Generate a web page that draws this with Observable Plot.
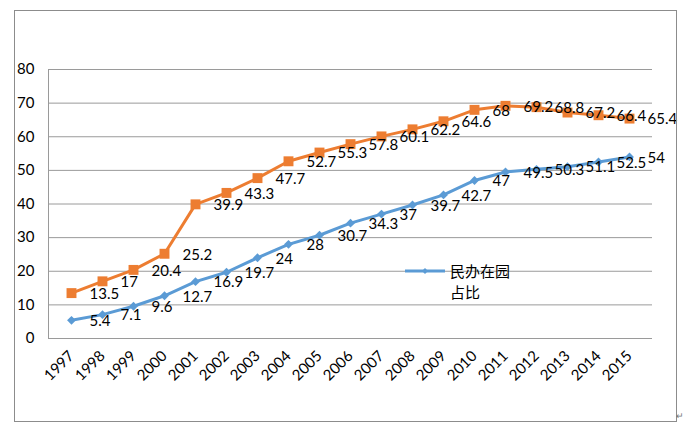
<!DOCTYPE html>
<html>
<head>
<meta charset="utf-8">
<script src="https://cdn.jsdelivr.net/npm/d3@7"></script>
<script src="https://cdn.jsdelivr.net/npm/@observablehq/plot@0.6"></script>
<style>
  html, body { margin: 0; padding: 0; background: #fff; }
  #wrap { position: relative; width: 685px; height: 429px; overflow: hidden; font-family: Lato, "Noto Sans CJK SC", sans-serif; }
  #border { position: absolute; left: 14px; top: 10px; width: 663px; height: 412px; box-sizing: border-box; border: 1.5px solid #8c8c8c; pointer-events: none; }
  #legend { position: absolute; left: 405px; top: 260px; display: flex; align-items: flex-start; }
  #legend .lab { width: 62px; font-family: "Noto Sans CJK SC", sans-serif; font-size: 15px; line-height: 21px; color: #000; }
  #mark { position: absolute; left: 676px; top: 410px; font-size: 9px; color: #777; }
</style>
</head>
<body>
<div id="wrap">
  <div id="chart"></div>
  <div id="border"></div>
  <div id="legend">
    <svg width="45" height="21"><line x1="0" x2="40" y1="11" y2="11" stroke="#5B9BD5" stroke-width="3"/><path d="M20,8 L23,11 L20,14 L17,11 Z" fill="#5B9BD5"/></svg>
    <div class="lab">民办在园占比</div>
  </div>
  <div id="mark">↵</div>
</div>
<script>
const years = ["1997","1998","1999","2000","2001","2002","2003","2004","2005","2006","2007","2008","2009","2010","2011","2012","2013","2014","2015"];
const orangeValues = [13.5, 17, 20.4, 25.2, 39.9, 43.3, 47.7, 52.7, 55.3, 57.8, 60.1, 62.2, 64.6, 68, 69.2, 68.8, 67.2, 66.4, 65.4];
const blueValues = [5.4, 7.1, 9.6, 12.7, 16.9, 19.7, 24, 28, 30.7, 34.3, 37, 39.7, 42.7, 47, 49.5, 50.3, 51.1, 52.5, 54];
const yTicks = [0, 10, 20, 30, 40, 50, 60, 70, 80];

const orange = years.map((y, i) => ({year: y, v: orangeValues[i]}));
const blue = years.map((y, i) => ({year: y, v: blueValues[i]}));

const ORANGE = "#ED7D31", BLUE = "#5B9BD5";

const chart = Plot.plot({
  width: 685,
  height: 429,
  marginLeft: 48,
  marginRight: 33,
  marginTop: 69,
  marginBottom: 91,
  style: {fontFamily: "Lato, 'Noto Sans CJK SC', sans-serif", fontSize: "14px", color: "#000", background: "transparent"},
  x: {type: "point", domain: years, padding: 0.5, label: null},
  y: {domain: [0, 80], label: null},
  marks: [
    Plot.gridY(yTicks, {stroke: "#9a9a9a", strokeOpacity: 1, strokeWidth: 1}),
    Plot.frame({anchor: "left", stroke: "#9a9a9a", strokeWidth: 1}),
    Plot.axisY(yTicks, {tickSize: 0, tickPadding: 14, fontSize: 15, fill: "#000", label: null}),
    Plot.axisX({tickSize: 0, tickRotate: -45, tickPadding: 15, fontSize: 15, fill: "#000", label: null}),
    Plot.line(orange, {x: "year", y: "v", stroke: ORANGE, strokeWidth: 3}),
    Plot.dot(orange, {x: "year", y: "v", symbol: "square", r: 5.6, fill: ORANGE, stroke: null}),
    Plot.line(blue, {x: "year", y: "v", stroke: BLUE, strokeWidth: 3}),
    Plot.dot(blue, {x: "year", y: "v", symbol: "diamond2", r: 4, fill: BLUE, stroke: null}),
    Plot.text(orange, {x: "year", y: "v", text: d => String(d.v), dx: 18, dy: 1, textAnchor: "start", fontSize: 15, fill: "#000"}),
    Plot.text(blue, {x: "year", y: "v", text: d => String(d.v), dx: 18, dy: 1, textAnchor: "start", fontSize: 15, fill: "#000"})
  ]
});
document.getElementById("chart").appendChild(chart);
</script>
</body>
</html>
